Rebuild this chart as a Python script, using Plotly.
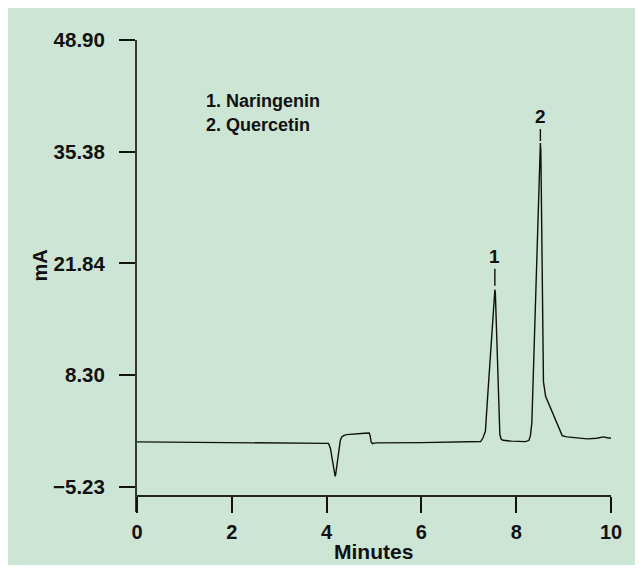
import plotly.graph_objects as go

# ---- data ----
time_min = [0.00, 1.00, 2.00, 3.00, 3.90, 4.00, 4.04, 4.08, 4.11, 4.15, 4.17, 4.18, 4.19, 4.21,
            4.23, 4.26, 4.29, 4.32, 4.36, 4.42, 4.50, 4.65, 4.80, 4.90, 4.92, 4.94, 4.97,
            5.00, 5.06, 6.00, 7.00, 7.25, 7.30, 7.35, 7.40, 7.45, 7.50, 7.53, 7.55, 7.56,
            7.58, 7.60, 7.62, 7.64, 7.655, 7.68, 7.72, 7.90, 8.10, 8.20, 8.27, 8.30, 8.33,
            8.37, 8.41, 8.45, 8.48, 8.50, 8.51, 8.52, 8.54, 8.56, 8.575, 8.62, 8.70, 8.80,
            8.89, 8.97, 9.07, 9.30, 9.50, 9.70, 9.84, 9.92, 10.00]
signal_mA = [0.21, 0.18, 0.15, 0.12, 0.10, 0.08, 0.02, -0.55, -1.54, -2.75, -3.70, -3.96, -3.80, -3.00,
             -1.94, -0.40, 0.40, 0.80, 0.97, 1.08, 1.13, 1.20, 1.26, 1.29, 0.90, 0.16, 0.00,
             0.06, 0.08, 0.12, 0.18, 0.25, 0.70, 1.49, 5.90, 10.30, 14.80, 17.50, 18.64, 18.30,
             14.50, 10.70, 6.80, 3.00, 1.10, 0.55, 0.40, 0.30, 0.24, 0.24, 0.40, 0.97, 2.50,
             10.30, 18.10, 25.90, 31.70, 35.40, 36.43, 35.50, 26.00, 14.00, 7.50, 5.72, 4.60, 3.30,
             2.09, 0.97, 0.81, 0.68, 0.57, 0.65, 0.81, 0.70, 0.64]

y_tick_vals = [48.90, 35.38, 21.84, 8.30, -5.23]
y_tick_text = ["48.90", "35.38", "21.84", "8.30", "\u22125.23"]
x_tick_vals = [0, 2, 4, 6, 8, 10]

peak_labels = ["1", "2"]
peak_times = [7.55, 8.51]
peak_heights = [18.64, 36.43]
compound_names = ["1. Naringenin", "2. Quercetin"]

BG = "#cce5d5"
FONT = "Liberation Sans"
INK = "#111111"

fig = go.Figure()
fig.add_trace(go.Scatter(x=time_min, y=signal_mA, mode="lines",
                         line=dict(color=INK, width=1.4),
                         hoverinfo="skip", showlegend=False))

# peak labels with short marker lines
offsets = [(-33, 4), (-26, 2)]
for lab, t, h, (ay, so) in zip(peak_labels, peak_times, peak_heights, offsets):
    fig.add_annotation(x=t, y=h, text=lab, showarrow=True, arrowhead=0,
                       arrowwidth=1.4, arrowcolor=INK, ax=0, ay=ay,
                       standoff=so, font=dict(family=FONT, size=19, color=INK,
                                              weight="bold"))

# compound list
for i, name in enumerate(compound_names):
    fig.add_annotation(xref="paper", yref="paper", x=0.142, y=0.871 - i * 0.051,
                       text=name, showarrow=False, xanchor="left", yanchor="middle",
                       font=dict(family=FONT, size=18, color=INK, weight="bold"))

# axis titles
fig.add_annotation(xref="paper", yref="paper", x=0.499, y=-0.083, text="Minutes",
                   showarrow=False, xanchor="center", yanchor="middle",
                   font=dict(family=FONT, size=21, color=INK, weight="bold"))
fig.add_annotation(xref="paper", yref="paper", x=-0.204, y=0.523, text="mA",
                   textangle=-90, showarrow=False, xanchor="center", yanchor="middle",
                   font=dict(family=FONT, size=20, color=INK, weight="bold"))

fig.update_layout(
    width=628, height=557,
    margin=dict(l=128.7, r=25.3, t=32, b=53),
    paper_bgcolor=BG, plot_bgcolor=BG,
    font=dict(family=FONT, size=18, color=INK, weight="bold"),
    showlegend=False,
)
fig.update_xaxes(range=[0, 10], anchor="free", position=0.0333,
                 tickvals=x_tick_vals, ticks="outside", ticklen=16, tickwidth=1.5,
                 tickcolor=INK, showline=True, linecolor="#222222", linewidth=1.5,
                 showgrid=False, zeroline=False, ticklabelstandoff=2,
                 tickfont=dict(family=FONT, size=20, weight="bold"))
fig.update_yaxes(range=[-8.29, 48.90], tickvals=y_tick_vals, ticktext=y_tick_text,
                 ticks="outside", ticklen=16, tickwidth=1.5, tickcolor=INK,
                 showline=True, linecolor="#333a35", linewidth=2,
                 showgrid=False, zeroline=False, ticklabelstandoff=10,
                 tickfont=dict(family=FONT, size=20.5, weight="bold"))

fig.write_html("out.html")
